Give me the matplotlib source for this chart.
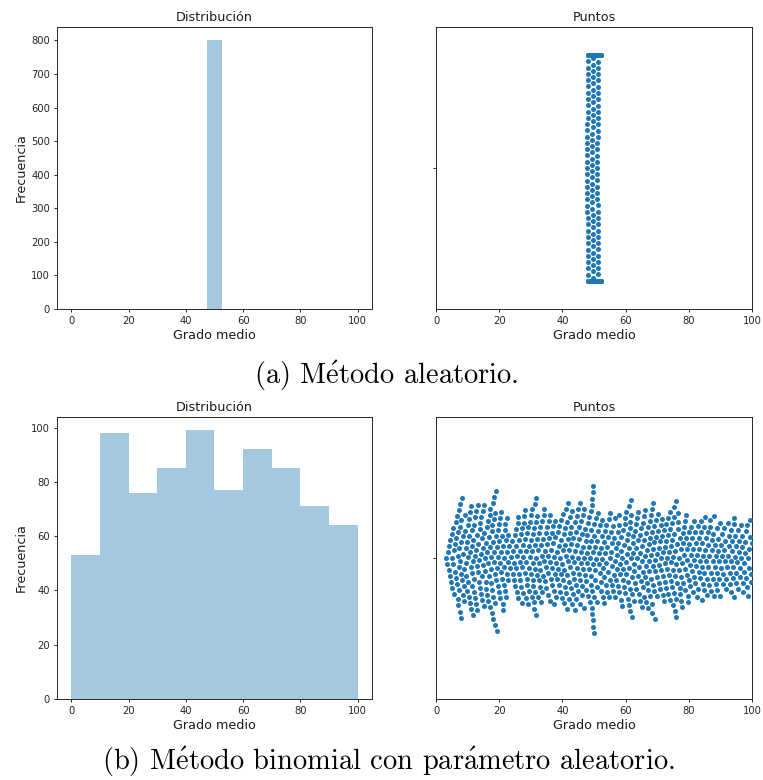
import numpy as np
import matplotlib
matplotlib.use("Agg")
import matplotlib.pyplot as plt
import seaborn as sns

# Método aleatorio: grado medio agrupado en intervalos de 0.5
grado_a_inicio = [47.75, 48.25, 48.75, 49.25, 49.75, 50.25, 50.75, 51.25, 51.75]
grado_a_conteo = [40, 90, 120, 140, 140, 120, 90, 45, 15]

# Método binomial con parámetro aleatorio: conteos por unidad de grado medio (0..99)
grado_b_inicio = list(range(100))
grado_b_conteo = [
    0, 0, 0, 3, 6, 7, 8, 13, 9, 7,
    10, 10, 10, 8, 10, 8, 9, 11, 13, 9,
    9, 9, 8, 3, 6, 8, 8, 8, 9, 8,
    10, 12, 8, 8, 8, 8, 8, 8, 7, 8,
    9, 10, 9, 9, 9, 10, 9, 8, 8, 18,
    8, 7, 8, 8, 7, 8, 7, 8, 8, 8,
    9, 12, 8, 8, 8, 9, 9, 9, 12, 8,
    8, 8, 8, 8, 9, 12, 8, 8, 8, 8,
    7, 7, 7, 7, 8, 7, 7, 7, 7, 7,
    6, 6, 6, 7, 8, 6, 6, 6, 7, 6,
]

bins_a = [47.5, 52.5]
bins_b = np.arange(0, 101, 10)
ticks_x = [0, 20, 40, 60, 80, 100]

titulos = ["Distribución", "Puntos"]
etiqueta_x = "Grado medio"
etiqueta_y = "Frecuencia"
leyendas = ["(a) M$\\acute{\\mathrm{e}}$todo aleatorio.",
            "(b) M$\\acute{\\mathrm{e}}$todo binomial con par$\\acute{\\mathrm{a}}$metro aleatorio."]


def expandir(inicios, conteos, ancho):
    # reparte cada conteo dentro de su intervalo
    valores = []
    for x0, n in zip(inicios, conteos):
        if n > 0:
            valores.extend(x0 + ancho * (np.arange(n) + 0.5) / n)
    return np.array(valores)


grado_a = expandir(grado_a_inicio, grado_a_conteo, 0.5)
grado_b = expandir(grado_b_inicio, grado_b_conteo, 1.0)

plt.rcParams.update({
    "axes.linewidth": 0.7,
    "axes.edgecolor": "#262626",
    "xtick.major.size": 2.5,
    "ytick.major.size": 2.5,
    "xtick.major.width": 0.7,
    "ytick.major.width": 0.7,
    "xtick.major.pad": 2.5,
    "ytick.major.pad": 2.5,
    "xtick.labelsize": 7.2,
    "ytick.labelsize": 7.2,
    "xtick.color": "#262626",
    "ytick.color": "#262626",
    "axes.labelsize": 9.2,
    "axes.titlesize": 9.2,
    "axes.titlepad": 4.3,
    "axes.labelpad": 2.5,
    "text.color": "#1a1a1a",
    "axes.labelcolor": "#1a1a1a",
    "mathtext.fontset": "cm",
})

W, H = 763, 780
fig = plt.figure(figsize=(W / 100, H / 100), dpi=100)


def caja(x0, y0, x1, y1):
    return [x0 / W, 1 - y1 / H, (x1 - x0) / W, (y1 - y0) / H]


filas = [
    (grado_a, bins_a, [0, 100, 200, 300, 400, 500, 600, 700, 800], 27, 309),
    (grado_b, bins_b, [0, 20, 40, 60, 80, 100], 417, 699),
]

enjambres = []
for datos, bins, ticks_y, y0, y1 in filas:
    # histograma
    ax = fig.add_axes(caja(57, y0, 372, y1))
    ax.hist(datos, bins=bins, color="#1f77b4", alpha=0.4)
    ax.set_xlim(-5, 105)
    ax.set_xticks(ticks_x)
    ax.set_yticks(ticks_y)
    ax.set_title(titulos[0])
    ax.set_xlabel(etiqueta_x)
    ax.set_ylabel(etiqueta_y)

    # enjambre de puntos (se coloca con un tamaño algo mayor que el dibujado)
    ax2 = fig.add_axes(caja(436, y0, 752, y1))
    sns.swarmplot(x=datos, ax=ax2, size=4.3, color="#1f77b4")
    ax2.set_xlim(0, 100)
    ax2.set_ylim(0.5, -0.5)
    ax2.set_xticks(ticks_x)
    ax2.set_yticks([0])
    ax2.set_yticklabels([""])
    ax2.set_title(titulos[1])
    ax2.set_xlabel(etiqueta_x)
    ax2.set_ylabel("")
    enjambres.append(ax2)

fuente = ["cmr10", "DejaVu Serif"]
fig.text(386 / W, 1 - 376 / H, leyendas[0], ha="center", va="center",
         fontsize=20.5, family=fuente, color="black")
fig.text(388 / W, 1 - 762 / H, leyendas[1], ha="center", va="center",
         fontsize=20.5, family=fuente, color="black")

# fija las posiciones del enjambre y ajusta el tamaño de los puntos
fig.canvas.draw()
for ax2 in enjambres:
    for coll in ax2.collections:
        if "draw" in coll.__dict__:
            del coll.draw
        coll.set_sizes([13])

fig.savefig("out.png", dpi=100)
